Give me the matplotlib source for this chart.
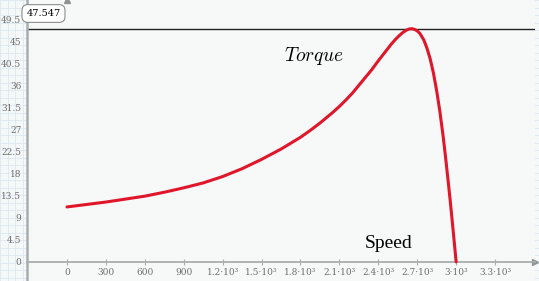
import numpy as np
import matplotlib.pyplot as plt

plt.rcParams['mathtext.fontset'] = 'cm'

# motor speed (rpm) and torque
speed = [0, 150, 300, 450, 600, 750, 900, 1050, 1200, 1350, 1500, 1650, 1725,
         1800, 1875, 1950, 2050, 2100, 2150, 2200, 2250, 2300, 2350, 2400,
         2450, 2500, 2530, 2560, 2590, 2620, 2640, 2660, 2680, 2700, 2720,
         2750, 2775, 2800, 2825, 2850, 2875, 2900, 2920, 2940, 2955, 2970,
         2985, 3000]
torque = [11.2, 11.7, 12.2, 12.8, 13.4, 14.2, 15.1, 16.1, 17.4, 19.0, 20.9,
          23.0, 24.2, 25.4, 26.8, 28.3, 30.5, 31.7, 33.0, 34.4, 36.0, 37.6,
          39.2, 41.0, 42.7, 44.4, 45.3, 46.1, 46.8, 47.3, 47.5, 47.55, 47.4,
          47.1, 46.6, 45.3, 43.6, 41.4, 38.5, 34.9, 30.6, 25.6, 21.0, 16.1,
          12.3, 8.3, 4.2, 0.0]
t_max = 47.547

x_ticks = [0, 300, 600, 900, 1200, 1500, 1800, 2100, 2400, 2700, 3000, 3300]
x_labels = ['0', '300', '600', '900', '1.2·10³', '1.5·10³', '1.8·10³',
            '2.1·10³', '2.4·10³', '2.7·10³', '3·10³', '3.3·10³']
y_ticks = [0, 4.5, 9, 13.5, 18, 22.5, 27, 31.5, 36, 40.5, 45, 49.5]
y_labels = ['0', '4.5', '9', '13.5', '18', '22.5', '27', '31.5', '36', '40.5', '45', '49.5']

W, H = 539, 281
fig = plt.figure(figsize=(W / 100, H / 100), dpi=100)
fig.patch.set_facecolor('#f5f8f9')

# faint graph-paper background behind the plot region
bg = fig.add_axes([0, 0, 1, 1])
bg.set_xlim(0, W)
bg.set_ylim(H, 0)
bg.axis('off')
for gx in np.arange(0, W, 7.5):
    bg.axvline(gx, color='#dde8ef', lw=0.6)
for gy in np.arange(0, H, 7.5):
    bg.axhline(gy, color='#dde8ef', lw=0.6)

ax = fig.add_axes([27 / W, 0, (535 - 27) / W, 1])
ax.set_facecolor('#f7f9f8')
ax.set_xlim(-308, 3608)
ax.set_ylim(-3.9, 53.4)

ax.plot(speed, torque, color='#e0162b', lw=2.2, solid_capstyle='round',
        solid_joinstyle='round', zorder=3)
ax.axhline(t_max, color='#222222', lw=1.0, zorder=2)

for s in ['top', 'right']:
    ax.spines[s].set_visible(False)
ax.spines['left'].set_color('#a9adae')
ax.spines['left'].set_linewidth(1.8)
ax.spines['bottom'].set_position(('data', 0))
ax.spines['bottom'].set_color('#a9adae')
ax.spines['bottom'].set_linewidth(1.3)

ax.set_xticks(x_ticks)
ax.set_xticklabels(x_labels)
ax.set_yticks(y_ticks)
ax.set_yticklabels(y_labels)
ax.tick_params(axis='x', direction='inout', length=5, width=0.8, color='#a9adae',
               labelsize=6.5, labelcolor='#6e6e6e', pad=2)
ax.tick_params(axis='y', length=0, labelsize=6.5, labelcolor='#6e6e6e', pad=4)
for lab in ax.get_xticklabels() + ax.get_yticklabels():
    lab.set_family('DejaVu Serif')

# axis arrows
ax.plot(1, 0, '>', color='#8f9394', ms=5, transform=ax.get_yaxis_transform(), clip_on=False)
ax.plot(0, 1, '^', color='#8f9394', ms=5, transform=ax.get_xaxis_transform(), clip_on=False)

ax.text(1900, 42.0, r'$Torque$', fontsize=14, ha='center', va='center')
ax.text(2480, 3.8, 'Speed', fontsize=14, family='Liberation Serif',
        ha='center', va='center')

# readout box for the max torque marker
fig.text(43.5 / W, 1 - 13.5 / H, '47.547', fontsize=7, family='DejaVu Serif',
         ha='center', va='center', zorder=10,
         bbox=dict(boxstyle='round,pad=0.45,rounding_size=0.6',
                   fc='white', ec='#8c8c8c', lw=0.8))

fig.savefig('out.png', dpi=100, facecolor=fig.get_facecolor())
